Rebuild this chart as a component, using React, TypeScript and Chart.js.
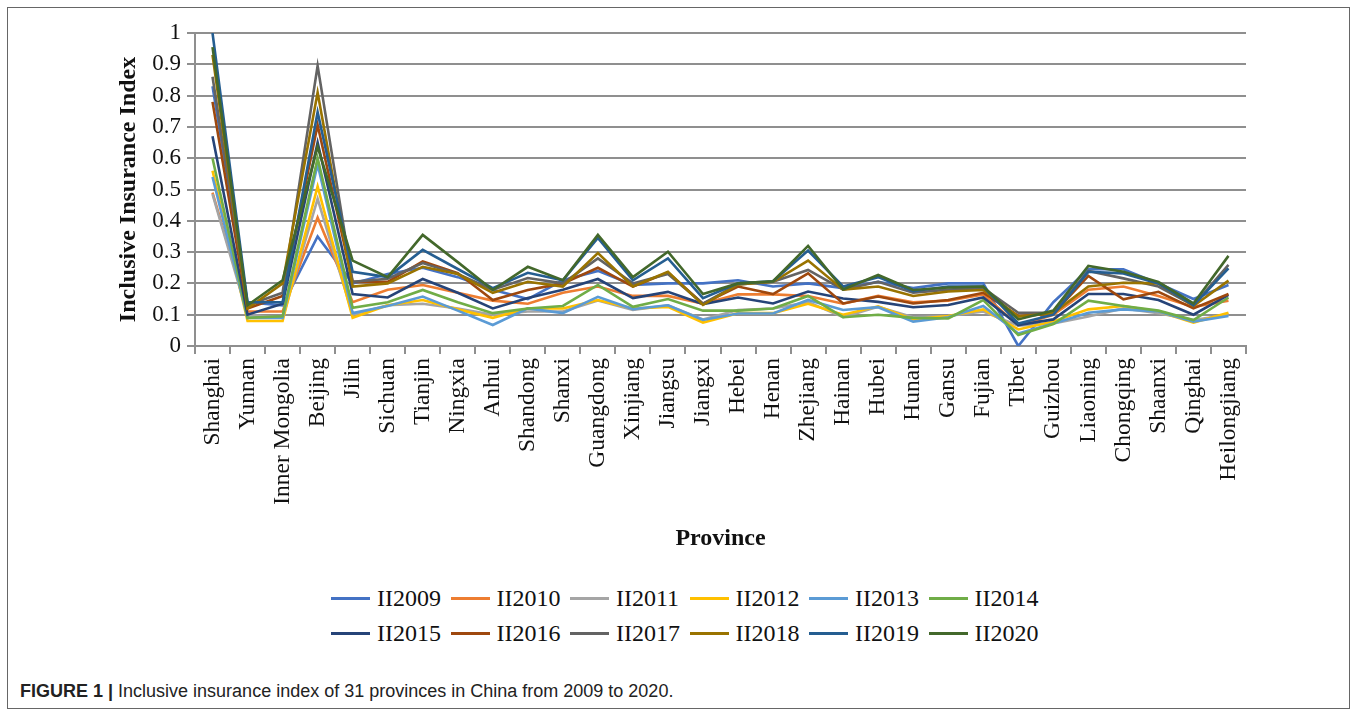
import React, { useEffect, useRef } from "react";
import { Chart, registerables } from "chart.js";

Chart.register(...registerables);

const provinces = [
  "Shanghai", "Yunnan", "Inner Mongolia", "Beijing", "Jilin", "Sichuan", "Tianjin", "Ningxia",
  "Anhui", "Shandong", "Shanxi", "Guangdong", "Xinjiang", "Jiangsu", "Jiangxi", "Hebei", "Henan",
  "Zhejiang", "Hainan", "Hubei", "Hunan", "Gansu", "Fujian", "Tibet", "Guizhou", "Liaoning",
  "Chongqing", "Shaanxi", "Qinghai", "Heilongjiang",
];

const II2009 = [0.83, 0.14, 0.13, 0.35, 0.2, 0.23, 0.25, 0.22, 0.18, 0.15, 0.21, 0.24, 0.195, 0.2, 0.2, 0.21, 0.19, 0.2, 0.185, 0.205, 0.185, 0.2, 0.2, 0.0, 0.14, 0.245, 0.245, 0.2, 0.15, 0.195];
const II2010 = [0.49, 0.11, 0.11, 0.41, 0.14, 0.18, 0.195, 0.17, 0.145, 0.135, 0.17, 0.19, 0.16, 0.16, 0.135, 0.165, 0.165, 0.16, 0.135, 0.16, 0.14, 0.145, 0.165, 0.065, 0.1, 0.18, 0.19, 0.16, 0.125, 0.145];
const II2011 = [0.485, 0.1, 0.09, 0.47, 0.1, 0.13, 0.135, 0.12, 0.1, 0.11, 0.11, 0.145, 0.115, 0.13, 0.085, 0.115, 0.12, 0.14, 0.092, 0.125, 0.092, 0.096, 0.11, 0.065, 0.072, 0.094, 0.12, 0.105, 0.083, 0.1];
const II2012 = [0.56, 0.08, 0.08, 0.51, 0.09, 0.13, 0.147, 0.117, 0.09, 0.12, 0.12, 0.147, 0.12, 0.125, 0.075, 0.105, 0.105, 0.135, 0.1, 0.127, 0.085, 0.096, 0.117, 0.053, 0.078, 0.117, 0.128, 0.11, 0.075, 0.106];
const II2013 = [0.54, 0.09, 0.09, 0.58, 0.105, 0.128, 0.158, 0.113, 0.067, 0.12, 0.105, 0.157, 0.118, 0.13, 0.083, 0.104, 0.104, 0.147, 0.115, 0.124, 0.078, 0.092, 0.128, 0.04, 0.072, 0.106, 0.117, 0.11, 0.078, 0.096];
const II2014 = [0.6, 0.09, 0.095, 0.6, 0.122, 0.14, 0.179, 0.14, 0.105, 0.12, 0.128, 0.195, 0.125, 0.15, 0.113, 0.113, 0.12, 0.16, 0.092, 0.1, 0.09, 0.088, 0.147, 0.035, 0.07, 0.145, 0.128, 0.113, 0.083, 0.155];
const II2015 = [0.67, 0.1, 0.135, 0.65, 0.166, 0.155, 0.214, 0.17, 0.12, 0.153, 0.18, 0.214, 0.153, 0.173, 0.134, 0.155, 0.136, 0.174, 0.152, 0.141, 0.124, 0.131, 0.155, 0.067, 0.085, 0.166, 0.166, 0.147, 0.1, 0.163];
const II2016 = [0.78, 0.12, 0.16, 0.706, 0.205, 0.205, 0.27, 0.233, 0.147, 0.179, 0.2, 0.25, 0.19, 0.235, 0.135, 0.19, 0.166, 0.232, 0.136, 0.158, 0.136, 0.147, 0.17, 0.096, 0.103, 0.224, 0.149, 0.173, 0.12, 0.166];
const II2017 = [0.86, 0.13, 0.17, 0.895, 0.205, 0.215, 0.265, 0.23, 0.18, 0.217, 0.2, 0.28, 0.2, 0.23, 0.135, 0.197, 0.205, 0.243, 0.18, 0.205, 0.17, 0.18, 0.185, 0.106, 0.106, 0.24, 0.216, 0.19, 0.13, 0.259];
const II2018 = [0.93, 0.12, 0.2, 0.81, 0.19, 0.2, 0.253, 0.23, 0.17, 0.205, 0.19, 0.297, 0.19, 0.237, 0.131, 0.197, 0.205, 0.273, 0.18, 0.19, 0.16, 0.174, 0.179, 0.094, 0.105, 0.19, 0.202, 0.2, 0.128, 0.209];
const II2019 = [1.0, 0.14, 0.14, 0.747, 0.237, 0.22, 0.307, 0.246, 0.185, 0.234, 0.21, 0.345, 0.21, 0.28, 0.153, 0.2, 0.207, 0.305, 0.19, 0.22, 0.175, 0.19, 0.19, 0.072, 0.1, 0.237, 0.232, 0.2, 0.13, 0.248];
const II2020 = [0.955, 0.13, 0.21, 0.637, 0.273, 0.22, 0.355, 0.268, 0.179, 0.253, 0.21, 0.355, 0.22, 0.301, 0.166, 0.2, 0.207, 0.32, 0.181, 0.227, 0.179, 0.187, 0.19, 0.085, 0.113, 0.256, 0.237, 0.205, 0.136, 0.288];

const seriesNames = ["II2009", "II2010", "II2011", "II2012", "II2013", "II2014", "II2015", "II2016", "II2017", "II2018", "II2019", "II2020"];
const seriesValues = [II2009, II2010, II2011, II2012, II2013, II2014, II2015, II2016, II2017, II2018, II2019, II2020];
const seriesColors = ["#4472C4", "#ED7D31", "#A5A5A5", "#FFC000", "#5B9BD5", "#70AD47", "#264478", "#9E480E", "#636363", "#997300", "#255E91", "#43682B"];

const yTicks = [0, 0.1, 0.2, 0.3, 0.4, 0.5, 0.6, 0.7, 0.8, 0.9, 1];

const SERIF = "'Liberation Serif', 'Times New Roman', serif";
const GRID = "#8f8f8f";

export default function App() {
  const canvasRef = useRef<HTMLCanvasElement | null>(null);

  useEffect(() => {
    if (!canvasRef.current) return;
    const chart = new Chart(canvasRef.current, {
      type: "line",
      data: {
        labels: provinces,
        datasets: seriesNames.map((name, i) => ({
          label: name,
          data: seriesValues[i],
          borderColor: seriesColors[i],
          backgroundColor: seriesColors[i],
          borderWidth: 2.6,
          pointRadius: 0,
          tension: 0,
          fill: false,
          order: 11 - i,
        })),
      },
      options: {
        animation: false,
        responsive: false,
        maintainAspectRatio: false,
        layout: { padding: { left: 102, right: 102, top: 25, bottom: 10.6 } },
        plugins: { legend: { display: false }, tooltip: { enabled: false } },
        scales: {
          x: {
            offset: true,
            grid: { display: true, drawOnChartArea: false, offset: true, color: GRID, lineWidth: 2, tickLength: 8 },
            border: { display: true, color: GRID, width: 2 },
            ticks: {
              autoSkip: false,
              minRotation: 90,
              maxRotation: 90,
              padding: 4,
              color: "#111",
              font: { family: SERIF, size: 23.5 },
            },
            title: {
              display: true,
              text: "Province",
              color: "#111",
              font: { family: SERIF, size: 24, weight: "bold" },
              padding: { top: 4, bottom: 4 },
            },
            afterFit: (scale: any) => { scale.height = 211.4; },
          },
          y: {
            min: 0,
            max: 1,
            afterBuildTicks: (scale: any) => { scale.ticks = yTicks.map((v) => ({ value: v })); },
            grid: { color: GRID, lineWidth: 2, tickLength: 8 },
            border: { display: true, color: GRID, width: 2 },
            ticks: {
              padding: 6,
              color: "#111",
              font: { family: SERIF, size: 23 },
              callback: (v: any) => String(Number(Number(v).toFixed(1))),
            },
            title: {
              display: true,
              text: "Inclusive Insurance Index",
              color: "#111",
              font: { family: SERIF, size: 24, weight: "bold" },
              padding: { top: 4, bottom: 4 },
            },
            afterFit: (scale: any) => { scale.width = 85; },
          },
        },
      },
    });
    return () => chart.destroy();
  }, []);

  return (
    <div
      style={{
        position: "absolute",
        left: 7,
        top: 7,
        width: 1343,
        height: 702,
        boxSizing: "border-box",
        border: "1px solid #666",
        background: "#fff",
      }}
    >
      <div style={{ position: "absolute", left: 0, top: 0, width: 1340, height: 560 }}>
        <canvas ref={canvasRef} width={1340} height={560} style={{ display: "block", width: 1340, height: 560 }} />
      </div>
      <div
        style={{
          position: "absolute",
          left: 323,
          top: 573,
          display: "grid",
          gridTemplateColumns: "repeat(6, 119.5px)",
          gridAutoRows: "35px",
          fontFamily: SERIF,
          fontSize: 24,
          color: "#111",
        }}
      >
        {seriesNames.map((name, i) => (
          <div key={name} style={{ display: "flex", alignItems: "center", whiteSpace: "nowrap" }}>
            <span style={{ display: "inline-block", width: 39, height: 3.5, background: seriesColors[i], marginRight: 7 }} />
            <span>{name}</span>
          </div>
        ))}
      </div>
      <div
        style={{
          position: "absolute",
          left: 12,
          top: 672,
          fontFamily: "'Liberation Sans', Arial, sans-serif",
          fontSize: 18,
          lineHeight: "22px",
          color: "#222",
          whiteSpace: "nowrap",
        }}
      >
        <b>FIGURE 1 |</b> Inclusive insurance index of 31 provinces in China from 2009 to 2020.
      </div>
    </div>
  );
}
